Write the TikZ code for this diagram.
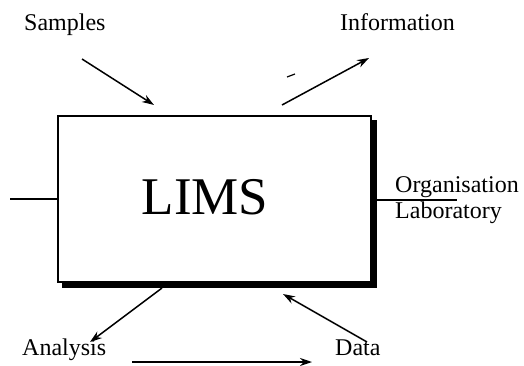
\documentclass[tikz,border=0pt]{standalone}
\usepackage{fontspec}
\setmainfont{Liberation Serif}
\usetikzlibrary{arrows.meta}
\begin{document}
\begin{tikzpicture}[x=1pt,y=-1pt,
  lbl/.style={anchor=base west,inner sep=0pt,font=\fontsize{24}{26}\selectfont},
  arr/.style={line width=1.5pt,-{Stealth[length=12pt,width=8pt]}},
  ln/.style={line width=1.4pt}]
\useasboundingbox (0,0) rectangle (524,366);
% shadow and box
\fill[black] (62,120) rectangle (377,288);
\node[draw,fill=white,line width=1.5pt,minimum width=313pt,minimum height=166pt,inner sep=0pt] (box) at (214.5,199) {};
\node[inner sep=0pt,font=\fontsize{53}{56}\selectfont] (lims) at (205,197) {LIMS};
% labels
\node[lbl] (samples) at (24,31) {Samples};
\node[lbl] (info) at (340,31) {Information};
\node[lbl] (org) at (395,192) {Organisation};
\node[lbl] (lab) at (395,218) {Laboratory};
\node[lbl] (analysis) at (22,355) {Analysis};
\node[lbl] (data) at (335,355) {Data};
% connector end points
\coordinate (s1) at (82,59);
\coordinate (s2) at (154,105);
\coordinate (i1) at (282,105);
\coordinate (i2) at (369,58);
\coordinate (a1) at (162,288);
\coordinate (a2) at (90,342);
\coordinate (d1) at (367,342);
\coordinate (d2) at (283,294);
\coordinate (b1) at (132,362);
\coordinate (b2) at (312,362);
\coordinate (l1) at (10,199);
\coordinate (r1) at (457,200);
\coordinate (m1) at (287,77);
\coordinate (m2) at (295,74);
\draw[arr] (s1) -- (s2);
\draw[arr] (i1) -- (i2);
\draw[arr] (a1) -- (a2);
\draw[arr] (d1) -- (d2);
\draw[arr] (b1) -- (b2);
\draw[ln] (l1) -- (box.west |- l1);
\draw[ln] (377,200) -- (r1);
\draw[line width=1.2pt] (m1) -- (m2);
\end{tikzpicture}
\end{document}
